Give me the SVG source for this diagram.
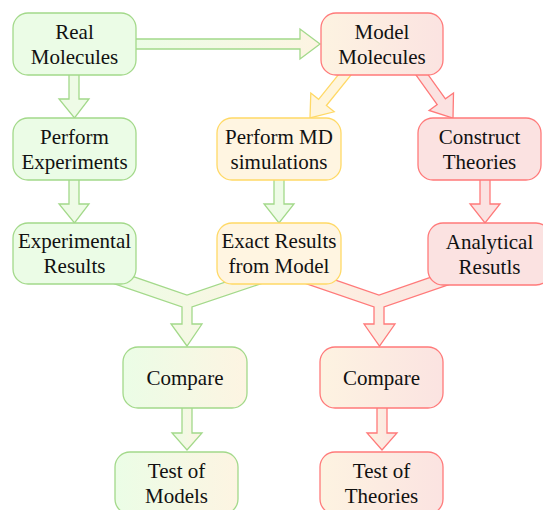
<svg xmlns="http://www.w3.org/2000/svg" width="543" height="510" viewBox="0 0 543 510">
<defs>
<linearGradient id="gc" x1="0" y1="0" x2="1" y2="0"><stop offset="0" stop-color="#ebfde6"/><stop offset="1" stop-color="#fdf4e2"/></linearGradient>
<linearGradient id="cr" x1="0" y1="0" x2="1" y2="0"><stop offset="0" stop-color="#fdf3e1"/><stop offset="1" stop-color="#fbe3e1"/></linearGradient>
<style>
.g{fill:#ebfce6;stroke:#a3d98a;stroke-width:1.3}
.gg{fill:url(#gc);stroke:#a3d98a;stroke-width:1.3}
.y{fill:#fff5e1;stroke:#ffd966;stroke-width:1.3}
.r{fill:#fbe2e1;stroke:#ff7a7a;stroke-width:1.3}
.rr{fill:url(#cr);stroke:#ff7a7a;stroke-width:1.3}
.ag{fill:#eefbe6;stroke:#a3d98a;stroke-width:1.3;stroke-linejoin:miter}
.agg{fill:url(#gc);stroke:#a3d98a;stroke-width:1.3}
.ay{fill:#fff5dc;stroke:#ffd966;stroke-width:1.3}
.ar{fill:#fbe2e1;stroke:#ff7a7a;stroke-width:1.3}
.arr{fill:url(#cr);stroke:#ff7a7a;stroke-width:1.3}
text{font-size:21px;fill:#111;text-anchor:middle}
</style>
</defs>
<g id="connectors">
<polygon class="agg" points="130,39 300,39 300,29 320,44 300,59 300,49 130,49"/>
<polygon class="ag" points="69,70 69,99 59,99 74.5,118 89,99 79,99 79,70"/>
<polygon class="ag" points="69,175 69,204 59,204 74.5,223 89,204 79,204 79,175"/>
<polygon class="ag" points="274,175 274,204 264,204 279,223 294,204 284,204 284,175"/>
<polygon class="ar" points="480,175 480,204 470,204 485,223 500,204 490,204 490,175"/>
<polygon class="ay" points="343.1,68.9 318.6,99.3 310.8,93 310,118 334.2,111.8 326.4,105.5 350.9,75.1"/>
<polygon class="ar" points="415.9,74.9 437.2,104.6 429.1,110.4 453,118 453.5,93 445.4,98.8 424.1,69.1"/>
<polygon class="agg" points="100,278.9 182,307 182,324 171,324 187,346 202,324 192,324 192,307 270,280.6 260,270.3 187,295 110,268.6"/>
<polygon class="arr" points="295,279.9 374,307 374,324 364,324 379.5,346 395,324 384,324 384,307 460,280.9 455,268.9 379,295 300,267.9"/>
<polygon class="agg" points="182,403 182,433 172,433 187,450 202,433 192,433 192,403"/>
<polygon class="arr" points="377,403 377,433 367,433 382,450 397,433 387,433 387,403"/>
</g>
<g font-family="'Liberation Serif', 'DejaVu Serif', serif">
<g id="real"><rect class="g" x="13" y="13" width="123" height="62" rx="15"/><text x="74.5" y="38.5">Real</text><text x="74.5" y="63.5">Molecules</text></g>
<g id="model"><rect class="rr" x="321" y="13" width="122" height="62" rx="15"/><text x="382" y="38.5">Model</text><text x="382" y="63.5">Molecules</text></g>
<g id="perfExp"><rect class="g" x="13" y="118" width="123" height="62" rx="15"/><text x="74.5" y="143.5">Perform</text><text x="74.5" y="168.5">Experiments</text></g>
<g id="perfMD"><rect class="y" x="217" y="118" width="124" height="62" rx="15"/><text x="279" y="143.5">Perform MD</text><text x="279" y="168.5">simulations</text></g>
<g id="construct"><rect class="r" x="418" y="118" width="123" height="62" rx="15"/><text x="479.5" y="143.5">Construct</text><text x="479.5" y="168.5">Theories</text></g>
<g id="expRes"><rect class="g" x="13" y="223" width="123" height="61" rx="15"/><text x="74.5" y="248">Experimental</text><text x="74.5" y="273">Results</text></g>
<g id="exact"><rect class="y" x="217" y="223" width="124" height="61" rx="15"/><text x="279" y="248">Exact Results</text><text x="279" y="273">from Model</text></g>
<g id="analytical"><rect class="r" x="428" y="223" width="123" height="62" rx="15"/><text x="489.5" y="249">Analytical</text><text x="489.5" y="274">Resutls</text></g>
<g id="compareL"><rect class="gg" x="123" y="347" width="124" height="61" rx="15"/><text x="185" y="385">Compare</text></g>
<g id="compareR"><rect class="rr" x="320" y="347" width="123" height="61" rx="15"/><text x="381.5" y="385">Compare</text></g>
<g id="testModels"><rect class="gg" x="115" y="452" width="123" height="62" rx="15"/><text x="176.5" y="477.5">Test of</text><text x="176.5" y="502.5">Models</text></g>
<g id="testTheories"><rect class="rr" x="320" y="452" width="123" height="62" rx="15"/><text x="381.5" y="477.5">Test of</text><text x="381.5" y="502.5">Theories</text></g>
</g>
</svg>
